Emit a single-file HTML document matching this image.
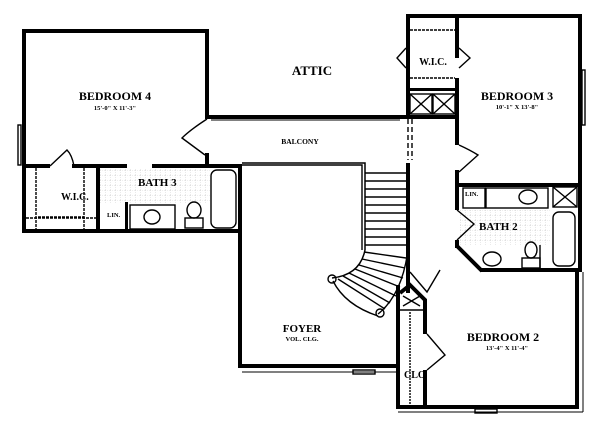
<!DOCTYPE html>
<html><head><meta charset="utf-8"><style>
html,body{margin:0;padding:0;background:#fff;}
svg{display:block}
text{font-family:"Liberation Serif",serif;font-weight:bold;fill:#000}
</style></head><body>
<svg width="600" height="434" viewBox="0 0 600 434" xmlns="http://www.w3.org/2000/svg">
<defs>
<pattern id="tile" width="5" height="5" patternUnits="userSpaceOnUse">
<path d="M0 0H5M0 0V5" stroke="#bbb" stroke-width="0.6" stroke-dasharray="1 1"/>
</pattern>
</defs>
<rect x="100" y="168" width="110" height="36" fill="url(#tile)"/>
<rect x="460" y="210" width="90" height="35" fill="url(#tile)"/>
<g fill="#000">
<rect x="22" y="29" width="187" height="4"/>
<rect x="22" y="29" width="4" height="204"/>
<rect x="205" y="29" width="4" height="90"/>
<rect x="205" y="153" width="4" height="14"/>
<rect x="22" y="164" width="28" height="4"/>
<rect x="72" y="164" width="55" height="4"/>
<rect x="152" y="164" width="90" height="4"/>
<rect x="22" y="229" width="220" height="4"/>
<rect x="96" y="166" width="4" height="67"/>
<rect x="125" y="202" width="3" height="30"/>
<rect x="238" y="164" width="4" height="204"/>
<rect x="205" y="115" width="205" height="4"/>
<rect x="238" y="364" width="160" height="4"/>
<rect x="406" y="14" width="176" height="4"/>
<rect x="406" y="14" width="4" height="105"/>
<rect x="455" y="14" width="4" height="44"/>
<rect x="455" y="78" width="4" height="67"/>
<rect x="455" y="170" width="4" height="40"/>
<rect x="455" y="240" width="4" height="8"/>
<rect x="406" y="88" width="53" height="3"/>
<rect x="406" y="115" width="53" height="4"/>
<rect x="578" y="14" width="4" height="258"/>
<rect x="455" y="183" width="127" height="4"/>
<rect x="480" y="268" width="102" height="4"/>
<rect x="575" y="270" width="4" height="139"/>
<rect x="396" y="405" width="183" height="4"/>
<rect x="406" y="163" width="4" height="130"/>
<rect x="396" y="285" width="4" height="124"/>
<rect x="423" y="312" width="4" height="22"/>
<rect x="423" y="370" width="4" height="38"/>
</g>
<g fill="none" stroke="#000" stroke-width="1.4">
<path d="M457 246 L482 271" stroke-width="4"/>
<path d="M400 293 L410 285 L420 295 L425 300 L425 314" stroke-width="4"/>
<path d="M400 310 L425 310"/>
<path d="M403 296 L420 306 M420 296 L403 306"/>
<rect x="410" y="94" width="22" height="20"/><path d="M410 94l22 20M432 94l-22 20"/>
<rect x="433" y="94" width="22" height="20"/><path d="M433 94l22 20M455 94l-22 20"/>
<rect x="553" y="187" width="24" height="20"/><path d="M553 187l24 20M577 187l-24 20"/>
<path d="M406 48 L397 58 L406 68"/>
<path d="M459 48 L470 58 L459 68"/>
<path d="M410 30 H455 M410 78 H455" stroke-dasharray="3 1"/>
<path d="M459 145 Q470 150 478 155 L459 172"/>
<path d="M207 119 Q190 130 182 138 L205 155"/>
<path d="M50 166 L67 150 Q72 155 74 166"/>
<path d="M36 168 V230 M84 168 V230 M26 218 H96 M38 217 H84" stroke-dasharray="3 1"/>
<path d="M242 163 H365 V250" stroke-width="1.5"/>
<path d="M242 165 H362 V250"/>
<path d="M408 119 V160 M412 119 V160" stroke-dasharray="5 3"/>
<path d="M457 210 L474 224 L457 240"/>
<path d="M410 272 L427 292 L440 270"/>
<path d="M365 250 Q360 275 332 278" stroke-width="1.5"/>
<path d="M408 250 Q402 295 378 314"/>
<path d="M333 281 Q345 305 378 316"/>
<circle cx="332" cy="279" r="4"/><circle cx="380" cy="313" r="4"/>
<path d="M365 173H406M365 181H406M365 189H406M365 197H406M365 205H406M365 213H406M365 221H406M365 229H406M365 237H406M365 245H406
M364 252L406 258M362 259L405 268M359 265L403 278M355 269L400 287M349 273L396 296M343 276L390 303M338 279L385 309"/>
<rect x="211" y="170" width="25" height="58" rx="6"/>
<rect x="130" y="205" width="45" height="24"/>
<ellipse cx="152" cy="217" rx="8" ry="7"/>
<rect x="185" y="218" width="18" height="10"/><ellipse cx="194" cy="210" rx="7" ry="8"/>
<rect x="553" y="212" width="22" height="54" rx="6"/>
<rect x="463" y="188" width="22" height="20"/>
<rect x="486" y="188" width="62" height="20"/>
<ellipse cx="528" cy="197" rx="9" ry="7"/>
<ellipse cx="492" cy="259" rx="9" ry="7"/>
<rect x="522" y="258" width="18" height="10"/><ellipse cx="531" cy="250" rx="6" ry="8"/>
<path d="M540 245 V268"/>
<path d="M427 334 L445 355 L427 370"/>
<path d="M410 312 V404" stroke-dasharray="2 1"/>
<path d="M242 372 H396 M398 412 H583 M583 272 V412 M211 120 H400" stroke-width="1"/>
<rect x="353" y="370" width="22" height="4"/><rect x="475" y="409" width="22" height="4"/>
<rect x="18" y="125" width="3" height="40"/><rect x="582" y="70" width="3" height="55"/>
</g>
<text x="115" y="100" font-size="12" text-anchor="middle">BEDROOM 4</text>
<text x="115" y="110" font-size="6.5" text-anchor="middle">15'-0" X 11'-3"</text>
<text x="312" y="75" font-size="13" text-anchor="middle">ATTIC</text>
<text x="300" y="144" font-size="7.5" text-anchor="middle">BALCONY</text>
<text x="61" y="200" font-size="10">W.I.C.</text>
<text x="138" y="186" font-size="11">BATH 3</text>
<text x="107" y="217" font-size="6.5">LIN.</text>
<text x="433" y="65" font-size="10" text-anchor="middle">W.I.C.</text>
<text x="517" y="100" font-size="12" text-anchor="middle">BEDROOM 3</text>
<text x="517" y="109" font-size="6.5" text-anchor="middle">10'-1" X 13'-8"</text>
<text x="465" y="196" font-size="6.5">LIN.</text>
<text x="479" y="230" font-size="11">BATH 2</text>
<text x="302" y="332" font-size="11" text-anchor="middle">FOYER</text>
<text x="302" y="341" font-size="6.5" text-anchor="middle">VOL. CLG.</text>
<text x="503" y="341" font-size="12" text-anchor="middle">BEDROOM 2</text>
<text x="507" y="350" font-size="6.5" text-anchor="middle">13'-4" X 11'-4"</text>
<text x="404" y="378" font-size="10">CLO</text>
</svg>
</body></html>
